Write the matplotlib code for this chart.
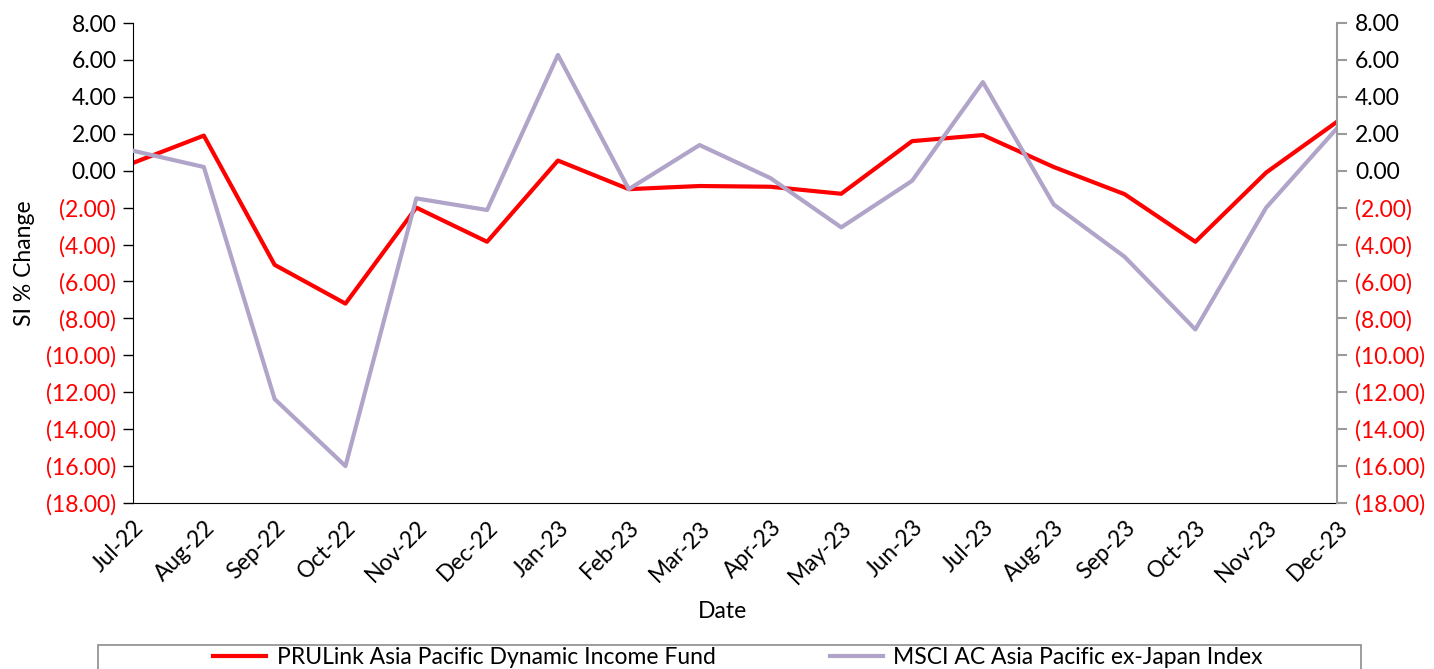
import matplotlib.pyplot as plt
from matplotlib.patches import Rectangle
from matplotlib.ticker import FuncFormatter

plt.rcParams['font.family'] = ['Lato', 'DejaVu Sans']

# Data
dates = ['Jul-22', 'Aug-22', 'Sep-22', 'Oct-22', 'Nov-22', 'Dec-22', 'Jan-23', 'Feb-23', 'Mar-23',
         'Apr-23', 'May-23', 'Jun-23', 'Jul-23', 'Aug-23', 'Sep-23', 'Oct-23', 'Nov-23', 'Dec-23']
fund = [0.42, 1.9, -5.1, -7.2, -2.0, -3.85, 0.55, -1.0, -0.83,
        -0.87, -1.25, 1.6, 1.93, 0.2, -1.27, -3.85, -0.1, 2.65]
index = [1.08, 0.2, -12.37, -16.0, -1.5, -2.13, 6.27, -1.0, 1.39,
         -0.4, -3.07, -0.55, 4.8, -1.83, -4.66, -8.6, -2.0, 2.3]
fund_name = 'PRULink Asia Pacific Dynamic Income Fund'
index_name = 'MSCI AC Asia Pacific ex-Japan Index'
yticks = list(range(-18, 9, 2))

RED = '#ff0000'
PURPLE = '#b1a4c9'
FS = 16.5


def fmt(v, pos=None):
    if v < 0:
        return '({:.2f})'.format(-v)
    return '{:.2f}'.format(v)


fig = plt.figure(figsize=(14.34, 6.69), dpi=100)
ax = fig.add_axes([133 / 1434, 1 - 503 / 669, (1337 - 133) / 1434, 480 / 669])
x = list(range(len(dates)))

ax.plot(x, fund, color=RED, lw=3, label=fund_name, zorder=2)
ax.plot(x, index, color=PURPLE, lw=3, label=index_name, zorder=3)

ax.set_xlim(0, len(dates) - 1)
ax.set_ylim(-18, 8)
ax.set_yticks(yticks)
ax.yaxis.set_major_formatter(FuncFormatter(fmt))
ax.set_xticks(x)
ax.set_xticklabels(dates, rotation=45, ha='right', va='top', rotation_mode='anchor', fontsize=FS)
ax.tick_params(axis='x', length=0, pad=10)
ax.tick_params(axis='y', length=7, width=1, labelsize=FS, pad=5)
for side in ['top', 'right']:
    ax.spines[side].set_visible(False)
ax.spines['left'].set_color('black')
ax.spines['bottom'].set_color('black')

ax2 = ax.twinx()
ax2.set_ylim(-18, 8)
ax2.set_yticks(yticks)
ax2.yaxis.set_major_formatter(FuncFormatter(fmt))
ax2.tick_params(axis='y', length=7, width=1.5, color='#9a9a9a', labelsize=FS, pad=6)
for side in ['top', 'left', 'bottom']:
    ax2.spines[side].set_visible(False)
ax2.spines['right'].set_color('#9a9a9a')
ax2.spines['right'].set_linewidth(1.5)

for a in [ax, ax2]:
    for lab, v in zip(a.get_yticklabels(), yticks):
        lab.set_color(RED if v < 0 else 'black')

ax.set_ylabel('SI % Change', fontsize=FS, labelpad=8)
ax.set_xlabel('Date', fontsize=FS, labelpad=12)
ax.xaxis.set_label_coords(0.49, -0.205)

# legend box runs off the bottom of the figure, as in the reference
fig.patches.append(Rectangle((98 / 1434, -0.05), 1263 / 1434, 0.05 + 24 / 669,
                             transform=fig.transFigure, fill=False,
                             edgecolor='#8c8c8c', lw=1.2))
fig.legend(handles=ax.get_lines(), loc='center', ncol=2,
           bbox_to_anchor=(738 / 1434, 1 - 658 / 669),
           fontsize=FS, frameon=False, handlelength=2.3, handletextpad=0.45,
           columnspacing=5.0, borderpad=0)

fig.savefig('out.png', dpi=100)
